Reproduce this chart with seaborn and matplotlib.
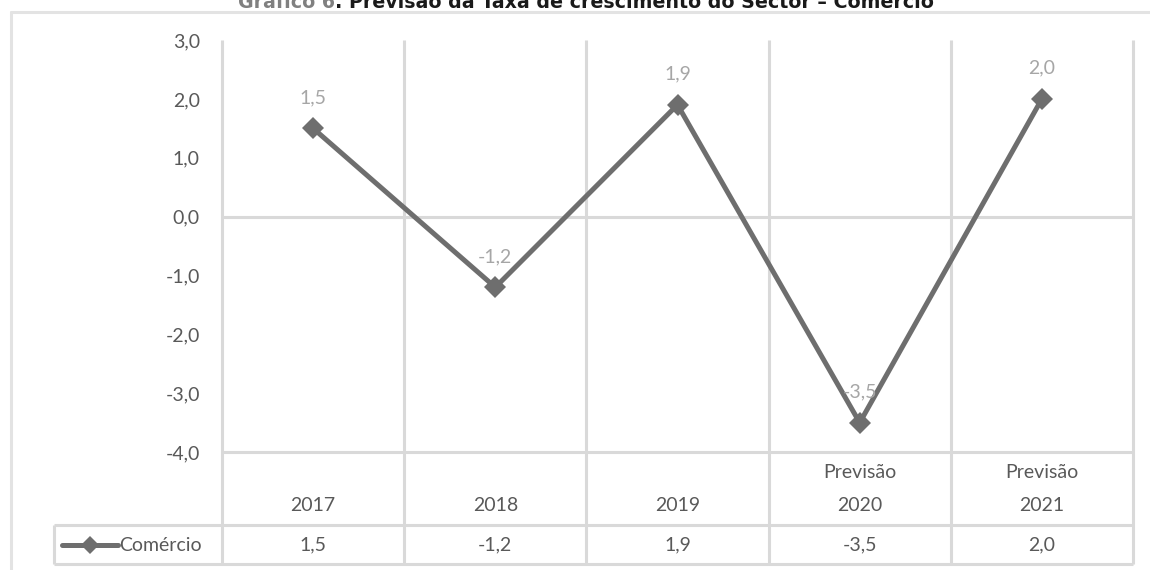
import matplotlib
matplotlib.use("Agg")
import matplotlib.pyplot as plt
from matplotlib.lines import Line2D
import seaborn as sns
import pandas as pd

# Data
years = ["2017", "2018", "2019", "2020", "2021"]
header_notes = ["", "", "", "Previsão", "Previsão"]
comercio = [1.5, -1.2, 1.9, -3.5, 2.0]
y_ticks = [3, 2, 1, 0, -1, -2, -3, -4]
series_name = "Comércio"
title_prefix = "Gráfico 6"
title_rest = ". Previsão da Taxa de crescimento do Sector – Comércio"

LINE = "#6e6e6e"
TICK = "#595959"
LABEL = "#a6a6a6"
GRID = "#d9d9d9"
FRAME = "#e3e3e3"
FS = 14


def fmt(v):
    return f"{v:.1f}".replace(".", ",")


sns.set_theme(style="white")
plt.rcParams["font.family"] = ["Lato", "DejaVu Sans"]

W, H = 1150, 570
fig = plt.figure(figsize=(W / 100, H / 100), dpi=100)
fig.patch.set_facecolor("white")


def fx(px):
    return px / W


def fy(py):
    return 1 - py / H


# Plot area extends down over the data table below the value axis
Y_TOP = 3.0
Y_BOTTOM = -5.90
Y_SEP = -5.24
ax = fig.add_axes([fx(222), fy(564), fx(1133) - fx(222), fy(40) - fy(564)])
ax.set_facecolor("white")

df = pd.DataFrame({"pos": range(len(years)), "valor": comercio})
sns.lineplot(data=df, x="pos", y="valor", ax=ax, color=LINE, lw=3.6,
             marker="D", markersize=11, markeredgewidth=0, zorder=5)

n = len(years)
ax.set_xlim(-0.5, n - 0.5)
ax.set_ylim(Y_BOTTOM, Y_TOP)
ax.set_yticks(y_ticks)
ax.set_yticklabels([fmt(v) for v in y_ticks], color=TICK, fontsize=FS)
ax.tick_params(axis="y", length=0, pad=16)
ax.set_xticks([])
ax.set_xlabel("")
ax.set_ylabel("")
for s in ax.spines.values():
    s.set_visible(False)

# Category borders and horizontal rules
bounds = [i - 0.5 for i in range(n + 1)]
LEG_LEFT = -1.42
ax.vlines(bounds, Y_BOTTOM, Y_TOP, color=GRID, lw=2.2, clip_on=False, zorder=1)
ax.vlines([LEG_LEFT], Y_BOTTOM, Y_SEP, color=GRID, lw=2.2, clip_on=False, zorder=1)
ax.hlines([0, -4], -0.5, n - 0.5, color=GRID, lw=2.2, clip_on=False, zorder=1)
ax.hlines([Y_SEP, Y_BOTTOM], LEG_LEFT, n - 0.5, color=GRID, lw=2.2,
          clip_on=False, zorder=1)

# Data labels
for i, v in enumerate(comercio):
    ax.annotate(fmt(v), (i, v), xytext=(0, 22), textcoords="offset points",
                ha="center", va="center", color=LABEL, fontsize=FS, zorder=6)

# Data table
for i, (yr, note, v) in enumerate(zip(years, header_notes, comercio)):
    if note:
        ax.text(i, -4.34, note, ha="center", va="center", color=TICK, fontsize=FS)
    ax.text(i, -4.90, yr, ha="center", va="center", color=TICK, fontsize=FS)
    ax.text(i, -5.58, fmt(v), ha="center", va="center", color=TICK, fontsize=FS)

# Legend key inside the table
ax.plot([-1.378, -1.071], [-5.58, -5.58], color=LINE, lw=3.6, clip_on=False)
ax.plot([-1.224], [-5.58], color=LINE, marker="D", markersize=9,
        markeredgewidth=0, clip_on=False)
ax.text(-1.062, -5.58, series_name, ha="left", va="center", color=TICK, fontsize=FS)

# Outer frame
fig.add_artist(Line2D([fx(11), 1.0], [fy(12), fy(12)], transform=fig.transFigure,
                      color=FRAME, lw=2.2))
fig.add_artist(Line2D([fx(11), fx(11)], [fy(12), 0.0], transform=fig.transFigure,
                      color=FRAME, lw=2.2))

# Title (runs past the top edge of the figure)
t1 = fig.text(fx(238), fy(8), title_prefix, ha="left", va="baseline",
              color="#808080", fontweight="bold", fontsize=13.7,
              family=["DejaVu Sans"])
ax.annotate(title_rest, xy=(1, 0), xycoords=t1, ha="left", va="bottom",
            color="#1a1a1a", fontweight="bold", fontsize=13.7,
            family=["DejaVu Sans"], annotation_clip=False)

fig.savefig("out.png", dpi=100)
